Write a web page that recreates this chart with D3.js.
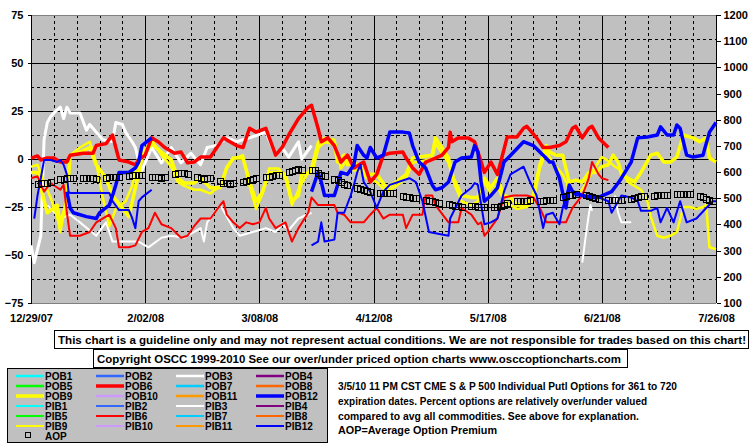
<!DOCTYPE html>
<html><head><meta charset="utf-8">
<script src="https://cdn.jsdelivr.net/npm/d3@7"></script>
<style>
html,body{margin:0;padding:0;background:#fff;}
svg{display:block;font-family:"Liberation Sans",Arial,sans-serif;font-weight:bold;}
</style></head>
<body>
<svg id="c" width="755" height="446"></svg>
<script>
// ---- data (day offset from 12/29/07, value) ----
const xTickLabels = ["12/29/07","2/02/08","3/08/08","4/12/08","5/17/08","6/21/08","7/26/08"];
const leftTicks = [75,50,25,0,-25,-50,-75];
const rightTicks = [1200,1100,1000,900,800,700,600,500,400,300,200,100];

const pob3 = [[0,-45],[1,-54],[3,-40],[4,10],[5,19],[6,22],[7,24],[9,27],[10,21],[11,27],[12,24],[15,24],[17,15],[18,18],[20,14],[22,10],[25,9],[26,19],[28,18],[29,14],[31,9],[32,6],[33,-1],[34,-6],[37,6],[40,-2],[43,6],[46,-2],[49,3],[52,-3],[54,6],[57,7],[60,11],[63,9],[67,11],[72,14],[75,2],[77,6],[79,1],[82,9],[83,0],[86,7]];
const pib3 = [[5,-24],[9,-31],[12,-29],[15,-33],[20,-40],[23,-33],[25,-43],[31,-43],[33,-43],[36,-46],[40,-41],[43,-40],[47,-41],[52,-36],[53,-43],[54,-33],[58,-24],[62,-36],[64,-40],[68,-38],[72,-36],[75,-38],[77,-34],[79,-37],[82,-31],[86,-28],[87,null],[169,-54],[170,-41],[171,-29],[171.5,-24],[172,-27],[173,null],[179,-19],[180,-28],[181,-33],[184,-33]];

const pob6 = [[0,0.5],[2,1.6],[3,-0.5],[5,0.5],[7,0.5],[9,-1.6],[11,-1.6],[12,2],[16,3],[19,3],[20,7],[23,8],[25,12.5],[26,6],[27,-0.5],[30,-1.6],[32,-3],[33,-0.5],[35,2],[37,11],[39,9],[41,6],[44,3],[46,3.6],[48,-2],[50,-1.6],[52,1],[55,1],[57,6],[59,11],[61,9],[63,7],[65,6],[67,16],[69,14],[72,16],[75,2],[77,6],[79,12.5],[82,21],[85,27],[86,28],[88,16],[89,9],[91,11],[93,7],[95,-1.6],[97,2],[99,-4.7],[102,-1.6],[104,-12],[106,-8],[108,2],[110,3],[114,3.6],[115,0.5],[117,-4.7],[119,-8],[121,-1.6],[124,0.5],[126,2],[128,6],[128.5,14],[129,9],[131,11],[134,11],[136,9],[138,-1.6],[139,-7],[141,-1.6],[143,-8],[144,-1.6],[146,11.5],[149,11.5],[151,16],[152,17],[155,11],[157,6],[159,6],[162,7],[164,9],[166,16],[167,17],[169,11],[171,16],[172,17],[174,11],[177,6]];
const pib6 = [[0,-10],[2,-9],[4,-17],[6,-12.5],[9,-16],[10,-13.5],[11,-28],[12,-40],[15,-40],[18,-38],[20,-33],[24,-29],[26,-36],[27,-46],[30,-46],[32,-45],[34,-38],[36,-36],[38,-28],[40,-34],[43,-36],[46,-41],[48,-40],[50,-35],[52,-31],[55,-31],[58,-24],[59,-22],[60,-29],[62,-33],[64,-36],[66,-33],[68,-34],[70,-33],[72,-25.5],[73,-31],[75,-36],[78,-33],[80,-43],[82,-36],[85,-28],[86,-20],[88,-24],[93,-24],[94,-28],[96,-29],[98,-33],[102,-33],[104,-29],[106,-25.5],[108,-31],[110,-29],[114,-29],[115,-36],[117,-29],[120,-29],[121,-19],[123,-19],[124,-24],[128,-33],[131,-33],[132,-25.5],[135,-29],[137,-34],[138,-33],[139,-40],[140,-38],[143,-31],[145,-20],[148,-19],[152,-19],[154,-20],[156,-25.5],[158,-33],[164,-33],[166,-25.5],[169,-19],[171,-10],[172,-1.6],[174,-8],[175,-10],[177,-11]];

const pob9 = [[0,-7],[2,-7],[3,-15],[5,-28],[8,-24],[9,-34],[11,-22],[12,2],[15,3.6],[18,6],[20,-3],[23,-10],[25,-19],[28,-25.5],[30,-30],[32,-15],[34,0.5],[37,8],[40,3.6],[43,-0.5],[45,-10],[47,-12.5],[50,-12.5],[52,-10],[55,-15],[58,-15],[60,-4.7],[62,0.5],[65,0.5],[67,-12],[69,-22],[71,-17],[73,-7],[76,-7],[78,-8],[80,-22],[82,-19],[83,-8],[86,-7],[88,6],[90,9],[93,8],[94,-1.6],[96,2],[97,-3],[99,-1.6],[101,-4.7],[103,-8],[106,-8],[109,-15],[112,-12],[115,-8],[117,0.5],[119,1],[123,2],[124,11],[128,0.5],[129.5,-10],[132,-19],[135,-20],[137,-20],[139,-10],[141,-15],[143,-10],[145,-19],[147,-20],[149,-24],[152,-24],[154,-19],[156,-3],[158,7],[159,3.6],[161,2],[163,2],[165,-12],[167,-11],[169,-12],[171,-7],[173,-7],[175,-4],[177,-3],[178.5,2],[180,-1.6],[181,-8],[185,-12],[187,-7],[190,2],[192,3],[194,-1.6],[196,-1.6],[198,1],[200,12.5],[203,11],[205,9],[207,11],[208,0.5],[210,-1.6]];
const pib9 = [[0,-4],[2,-3],[4,-12],[6,-20],[8,-30],[9,-38],[11,-20],[12,2],[15,6],[18,9],[20,-2],[22,-20],[24,-35],[26,-26],[29,-22],[31,-14],[33,1],[35,5],[37,10],[40,2],[43,-4],[45,-12],[47,-14],[50,-16],[52,-16],[55,-18],[58,-14],[60,-4],[62,0],[65,2],[67,-14],[69,-26],[71,-18],[73,-5],[76,-5],[78,-10],[80,-24],[82,-16],[84,-10],[86,-4],[88,9],[90,11],[93,10],[95,-5],[97,0],[99,-6],[101,-6],[103,-10],[106,-12],[109,-17],[112,-14],[115,-10],[117,-2],[120,-1],[123,0],[124,8],[128,-2],[130,-14],[132,-22],[135,-24],[137,-22],[139,-12],[141,-18],[143,-14],[145,-22],[147,-24],[149,-26],[152,-25],[154,-22],[156,-5],[158,4],[160,-2],[163,-8],[165,-16],[167,-18],[169,-16],[171,-10],[173,-4],[175,1],[177,-1],[179,-4],[181,-6],[183,-12],[185,-14],[187,-16],[189,-22],[190,-30],[192,-40],[194,-41],[196,-40],[198,-38],[200,-25],[202,-25],[204,-26],[206,-25],[207,-24],[208,-46],[210,-47]];

const pob12 = [[11,-17],[12,-25.5],[13,-28],[17,-30],[20,-31],[21,-28],[24,-24],[25,-19],[26,-13.5],[27,-7],[30,-7],[32,-4.7],[33,-1.6],[34,7],[37,11],[38,null],[86,-17],[88,-7],[89,-12],[90,-19],[93,-19],[94,-13.5],[95,-7],[97,-8],[99,-3],[100,7],[102,2],[103,0.5],[104,6],[106,0.5],[108,2],[110,14],[114,14],[116,13.5],[117,7],[119,-1.6],[121,-4.7],[123,-13.5],[124,-16],[126,-15],[128,-12],[130,-1.6],[132,0.5],[135,1],[136,7],[137,3.6],[138,-12],[139,-22],[141,-19],[143,-15],[145,-1.6],[148,3.6],[151,9],[154,7],[157,2],[159,-1.6],[160,-1.6],[162,-10],[164,-25.5],[165,-13.5],[166,-17],[169,-19],[171,-20],[174,-20],[178,-17],[180,-12.5],[181,-10],[184,-1.6],[186,11],[189,11.5],[192,12.5],[193,16.7],[195,12.5],[197,12.5],[198,17.7],[199,16],[201,2],[203,1],[206,2],[208,14],[210,19]];
const pib12 = [[1,-31],[2,-19],[3,-10],[4,-0.5],[6,-0.5],[8,-1.6],[9,-0.5],[10,-3],[11,-8],[11.5,-17],[12,-17.7],[24,-17.7],[25,-22],[27,-26.6],[30,-26.6],[31,-30.7],[32,-36],[33,-22],[34,-20],[37,-16],[38,null],[86,-45],[88,-43],[89,-33],[90,-43],[93,-42],[94,-28],[96,-28],[98,-19],[99,-13.5],[100,-7],[101,-3],[102,-12],[104,-17],[106,-25.5],[108,-17],[110,-13.5],[116,-10],[118,-12],[120,-22],[122,-38],[128,-40],[128.5,-31],[132,-19],[135,-15],[136,-12.5],[137,-13.5],[139,-34],[141,-33],[143,-31],[145,-17],[147,-8],[151,-4],[153,-12],[155,-19],[157,-36],[158,-29],[160,-28],[162,-34],[163,-25.5],[165,-13.5],[167,-19],[172,-19],[174,-20],[177,-22],[178,-28],[180,-22],[181,-19],[184,-20],[186,-22],[187,-27],[190,-27],[192,-25.5],[193,-33],[195,-25.5],[197,-33],[199,-22],[201,-33],[204,-31],[207,-25.5],[209,-22],[210,-22]];

// AOP (right axis), five trading days per week, weeks starting Mon 12/31/07
const aopWeeks = [
 [556,558,560,558,562],[572,575,577,578,577],[577,578,576,577,575],[578,581,580,583,581],
 [585,589,590,588,589],[583,581,580,578,581],[592,595,597,597,594],[580,578,575,577,578],
 [566,560,558,556,558],[562,566,570,573,577],[580,583,585,588,590],[600,604,608,610,608],
 [608,607,597,590,585],[575,570,562,556,551],[540,535,531,527,524],[522,520,521,519,520],
 [510,506,503,501,500],[495,491,490,486,482],[478,474,472,469,467],[472,470,468,467,468],
 [467,465,470,476,482],[490,491,489,490,492],[490,491,493,494,493],[505,509,512,514,516],
 [512,509,505,501,497],[495,493,494,493,492],[497,501,505,507,509],[510,512,513,512,513],
 [515,517,518,516,515],[509,504,498,493,490]];

const legendNames = ["POB1","POB2","POB3","POB4","POB5","POB6","POB7","POB8","POB9","POB10","POB11","POB12",
                     "PIB1","PIB2","PIB3","PIB4","PIB5","PIB6","PIB7","PIB8","PIB9","PIB10","PIB11","PIB12"];
const legendColors = ["#00FFFF","#3366FF","#FFFFFF","#800080","#00FF00","#FF0000","#00CCFF","#FF6600","#FFFF00","#CC99FF","#FF9900","#0000FF"];

const disclaimer = "This chart is a guideline only and may not represent actual conditions. We are not responsible for trades based on this chart!";
const copyright = "Copyright OSCC 1999-2010 See our over/under priced option charts www.osccoptioncharts.com";
const noteLines = ["3/5/10 11 PM CST CME S & P 500 Individual Putl Options for 361 to 720",
  "expiration dates. Percent options are relatively over/under valued",
  "compared to avg all commodities. See above for explanation.",
  "AOP=Average Option Premium"];

// ---- drawing ----
const svg = d3.select("#c");
const L=31, R=716, T=15, B=303;
const x = d3.scaleLinear().domain([0,210]).range([L,R]);
const y = d3.scaleLinear().domain([-75,75]).range([B,T]);
const yR = d3.scaleLinear().domain([100,1200]).range([B,T]);

svg.append("rect").attr("x",L).attr("y",T).attr("width",R-L).attr("height",B-T).attr("fill","#C0C0C0");

const grid = svg.append("g").attr("shape-rendering","crispEdges");
d3.range(-62.5,75,12.5).forEach(v=>{
  const major = Math.abs(v%25)<1e-9;
  grid.append("line").attr("x1",L).attr("x2",R).attr("y1",Math.round(y(v))+0.5).attr("y2",Math.round(y(v))+0.5)
    .attr("stroke","#000").attr("stroke-width",1).attr("stroke-dasharray",major?null:"3,3");
});
d3.range(7,210,7).forEach(d=>{
  const major = d%35===0;
  grid.append("line").attr("y1",T).attr("y2",B).attr("x1",Math.round(x(d))+0.5).attr("x2",Math.round(x(d))+0.5)
    .attr("stroke","#000").attr("stroke-width",1).attr("stroke-dasharray",major?null:"3,3");
});
grid.append("line").attr("x1",L).attr("x2",R).attr("y1",T+0.5).attr("y2",T+0.5).attr("stroke","#808080");
grid.append("line").attr("x1",L).attr("x2",R).attr("y1",B+0.5).attr("y2",B+0.5).attr("stroke","#808080");

const axL = d3.axisLeft(y).tickValues(leftTicks).tickSize(4).tickFormat(d3.format("d"));
const gL = svg.append("g").attr("transform",`translate(${L+0.5},0)`).call(axL);
const axR = d3.axisRight(yR).tickValues(rightTicks).tickSize(4).tickFormat(d3.format("d"));
const gR = svg.append("g").attr("transform",`translate(${R+0.5},0)`).call(axR);
const axB = d3.axisBottom(x).tickValues(d3.range(0,211,35)).tickSize(0).tickFormat((d,i)=>xTickLabels[i]);
const gB = svg.append("g").attr("transform",`translate(0,${B})`).call(axB);
[gL,gR,gB].forEach(g=>{
  g.selectAll("text").attr("font-family","'Liberation Sans',Arial,sans-serif").attr("font-weight","bold").attr("font-size",11).attr("fill","#000");
  g.selectAll("line").attr("stroke","#000").attr("shape-rendering","crispEdges");
  g.select(".domain").attr("stroke","#000").attr("shape-rendering","crispEdges");
});
gL.select(".domain").attr("d",`M0,${T}V${B}`);
gR.select(".domain").attr("d",`M0,${T}V${B}`);
gB.select(".domain").remove();
gL.selectAll("text").attr("x",-8);
gR.selectAll("text").attr("x",7);
gB.selectAll("text").attr("y",11);

const line = d3.line().defined(d=>d[1]!==null).x(d=>x(d[0])).y(d=>y(d[1]));
const plot = svg.append("g");
const series = [
  {d:pib3,c:"#FFFFFF",w:2},{d:pob3,c:"#FFFFFF",w:3},
  {d:pib9,c:"#FFFF00",w:2.5},{d:pob9,c:"#FFFF00",w:3.5},
  {d:pib6,c:"#FF0000",w:2},{d:pob6,c:"#FF0000",w:3.5},
  {d:pib12,c:"#0000FF",w:2},{d:pob12,c:"#0000FF",w:3.5}
];
series.forEach(s=>{
  plot.append("path").attr("d",line(s.d)).attr("fill","none").attr("stroke",s.c)
    .attr("stroke-width",s.w).attr("stroke-linejoin","round").attr("stroke-linecap","butt");
});

const aopPts = [];
aopWeeks.forEach((wk,i)=>wk.forEach((v,k)=>aopPts.push([2+7*i+k,v])));
plot.selectAll("rect.aop").data(aopPts).join("rect").attr("class","aop")
  .attr("x",d=>Math.round(x(d[0]))-3+0.5).attr("y",d=>Math.round(yR(d[1]))-3+0.5)
  .attr("width",6).attr("height",6).attr("fill","none").attr("stroke","#000").attr("stroke-width",1);

function box(x0,y0,w,h,txt,tx,tw,by){
  svg.append("rect").attr("x",x0+0.5).attr("y",y0+0.5).attr("width",w).attr("height",h)
    .attr("fill","#fff").attr("stroke","#000").attr("shape-rendering","crispEdges");
  svg.append("text").attr("x",tx).attr("y",by).attr("font-size",11.5).attr("font-weight","bold")
    .attr("textLength",tw).attr("lengthAdjust","spacingAndGlyphs").text(txt);
}
box(54,330,694,18,disclaimer,58,688,343.5);
box(93,349,534,18,copyright,97,524,362.5);

const lg = svg.append("g");
lg.append("rect").attr("x",7.5).attr("y",368.5).attr("width",320).attr("height",74)
  .attr("fill","#C0C0C0").attr("stroke","#000").attr("shape-rendering","crispEdges");
legendNames.forEach((n,i)=>{
  const row = Math.floor(i/4), col = i%4;
  const cy = 376 + row*10;
  const x0 = 16 + col*80;
  const ci = i%12;
  const thick = i<12 && (ci===5||ci===8||ci===11) ? 3.5 : (i<12 ? 2.5 : 2);
  lg.append("line").attr("x1",x0).attr("x2",x0+28).attr("y1",cy).attr("y2",cy)
    .attr("stroke",legendColors[ci]).attr("stroke-width",thick);
  lg.append("text").attr("x",x0+29).attr("y",cy+4).attr("font-size",10).attr("font-weight","bold").text(n);
});
lg.append("rect").attr("x",25.5).attr("y",432.5).attr("width",5).attr("height",5).attr("fill","none").attr("stroke","#000");
lg.append("text").attr("x",45).attr("y",439.5).attr("font-size",10).attr("font-weight","bold").text("AOP");

const noteW = [339,309,301,159];
noteLines.forEach((t,i)=>{
  svg.append("text").attr("x",338).attr("y",[390,405,420,434][i]).attr("font-size",11).attr("font-weight","bold")
    .attr("textLength",noteW[i]).attr("lengthAdjust","spacingAndGlyphs").text(t);
});
</script>
</body></html>
